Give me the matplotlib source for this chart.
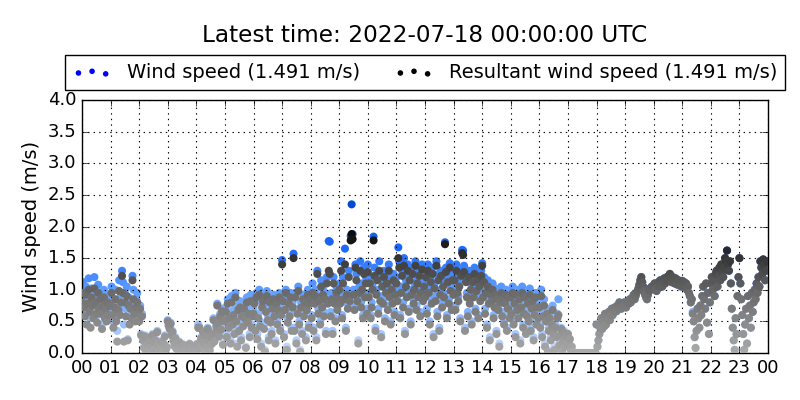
import numpy as np
import matplotlib
matplotlib.use('Agg')
from matplotlib import pyplot as plt
from matplotlib.colors import LinearSegmentedColormap, Normalize

# one value every 2 minutes, 30 per hour, hour 00 -> 23
WIND = [
    [0.95,1.12,0.85,0.70,1.05,0.62,0.90,1.18,0.78,0.55,1.02,0.88,0.68,1.20,0.92,0.75,0.60,1.08,0.82,0.96,0.72,0.45,0.88,1.00,0.65,0.80,0.58,0.92,0.70,0.85],
    [0.90,1.05,0.72,0.50,0.85,1.00,0.62,0.35,0.80,1.15,0.70,0.92,1.30,1.12,0.45,0.95,0.70,1.05,0.22,0.88,0.58,0.82,0.68,1.22,1.00,0.78,0.62,0.85,0.95,0.75],
    [0.55,0.75,0.30,0.62,0.22,0.10,0.28,0.05,0.15,0.25,0.08,0.20,0.02,0.12,0.30,0.18,0.06,0.22,0.10,0.35,0.15,0.04,0.12,0.08,0.20,0.03,0.15,0.28,0.06,0.10],
    [0.52,0.45,0.40,0.48,0.30,0.35,0.20,0.12,0.25,0.08,0.15,0.05,0.18,0.10,0.02,0.08,0.14,0.04,0.10,0.06,0.12,0.03,0.08,0.15,0.05,0.10,0.02,0.07,0.12,0.04],
    [0.05,0.15,0.45,0.42,0.10,0.25,0.08,0.35,0.18,0.02,0.30,0.12,0.40,0.22,0.05,0.28,0.15,0.32,0.55,0.20,0.35,0.45,0.78,0.50,0.28,0.62,0.40,0.70,0.15,0.55],
    [0.55,0.72,0.30,0.85,0.45,0.62,0.20,0.90,0.50,0.68,0.35,0.95,0.58,0.15,0.75,0.40,0.82,0.25,0.65,0.48,0.78,0.60,0.10,0.88,0.52,0.70,0.30,0.92,0.45,0.65],
    [0.70,0.85,0.40,0.95,0.30,0.62,1.00,0.50,0.15,0.80,0.90,0.45,0.05,0.72,0.98,0.60,0.25,0.88,0.55,0.35,0.78,0.92,0.65,0.20,0.85,0.50,0.75,0.95,0.40,0.68],
    [1.47,0.90,0.30,0.75,1.00,0.10,0.55,0.85,0.65,0.95,0.40,0.80,1.57,0.40,0.95,0.20,0.70,1.05,0.50,0.05,0.80,0.35,0.92,0.65,0.88,0.25,0.75,1.00,0.45,0.85],
    [0.95,0.60,1.10,0.40,0.85,1.00,0.25,1.30,0.70,0.90,0.50,1.15,0.80,1.00,0.65,0.95,0.35,1.20,0.85,1.77,1.76,0.65,0.95,0.35,1.20,0.85,0.55,1.05,0.75,0.92],
    [1.10,0.85,1.45,0.60,1.20,0.95,1.65,0.40,1.00,0.78,1.30,0.90,1.85,2.35,1.88,1.00,0.75,1.40,1.25,0.90,0.20,1.05,1.45,0.80,1.10,0.60,1.35,0.95,1.20,0.70],
    [1.40,0.95,1.20,0.60,0.80,1.10,1.84,1.35,0.40,1.00,1.25,0.70,1.45,0.90,0.30,1.15,0.85,1.30,0.55,1.05,1.20,0.75,1.40,0.95,0.50,1.10,0.85,1.25,0.65,1.00],
    [1.20,0.90,1.67,1.45,0.60,1.05,1.30,0.80,1.50,0.35,1.15,0.95,1.40,0.70,1.25,0.50,1.00,1.35,0.85,1.10,1.45,0.75,1.20,0.95,1.30,0.65,1.05,1.40,0.90,1.15],
    [0.95,1.30,0.70,1.40,1.05,0.50,1.20,0.85,1.35,0.30,1.10,0.90,1.45,0.65,1.25,0.40,1.00,1.30,0.80,1.15,0.95,1.75,1.35,0.60,1.20,0.85,1.42,1.05,0.75,1.25],
    [1.00,1.25,0.75,1.40,1.05,0.90,1.15,0.55,1.30,1.63,1.62,1.38,0.40,1.20,0.95,0.65,1.30,0.85,1.10,0.50,1.20,0.95,1.35,0.70,1.05,1.25,0.60,1.15,0.90,1.30],
    [1.42,0.95,1.20,0.70,1.05,0.45,1.15,0.85,0.25,1.00,0.90,1.10,0.60,0.80,1.02,0.35,0.95,0.75,0.15,0.88,1.05,0.65,0.92,0.50,0.85,1.00,0.40,0.78,0.95,0.60],
    [0.95,0.70,1.05,0.50,0.85,0.30,1.00,0.75,0.60,0.92,0.20,0.80,1.05,0.45,0.70,0.95,0.35,0.65,0.85,0.55,1.02,0.40,0.78,0.90,0.25,0.68,0.95,0.50,0.80,0.62],
    [0.80,0.45,1.00,0.30,0.65,0.85,0.15,0.55,0.70,0.05,0.40,0.60,0.25,0.50,0.75,0.35,0.10,0.45,0.28,0.62,0.85,0.15,0.30,0.40,0.05,0.20,0.35,0.12,0.28,0.18],
    [0.30,0.15,0.22,0.05,0.10,0.02,0.00,0.00,0.00,0.00,0.00,0.00,0.00,0.00,0.00,0.00,0.00,0.00,0.00,0.00,0.00,0.00,0.00,0.00,0.00,0.00,0.00,0.00,0.00,0.00],
    [0.45,0.10,0.20,0.30,0.40,0.55,0.38,0.50,0.42,0.62,0.45,0.58,0.52,0.65,0.52,0.60,0.70,0.60,0.66,0.72,0.68,0.66,0.75,0.70,0.80,0.72,0.70,0.78,0.76,0.80],
    [0.75,0.72,0.80,0.82,0.78,0.85,0.80,0.84,0.88,0.92,0.85,0.90,0.95,0.98,1.02,1.08,1.15,1.20,1.12,1.05,0.98,0.92,0.88,0.85,0.92,0.98,1.02,1.00,1.05,1.02],
    [1.05,1.10,1.02,0.98,1.06,1.12,1.08,1.15,1.10,1.05,1.12,1.18,1.10,1.14,1.20,1.16,1.22,1.25,1.18,1.12,1.20,1.15,1.10,1.18,1.12,1.08,1.15,1.10,1.12,1.05],
    [1.14,1.08,1.12,1.05,1.10,1.00,1.05,0.95,0.90,0.80,0.85,0.65,0.50,0.25,0.08,0.35,0.70,0.55,0.40,0.75,0.60,0.90,1.05,0.85,0.70,1.10,0.48,0.95,0.30,0.80],
    [1.10,1.20,1.00,1.15,0.90,1.25,1.30,1.05,1.22,1.35,1.15,1.40,1.28,1.20,1.35,1.50,1.45,1.62,1.40,1.30,1.45,1.10,0.70,0.40,0.20,0.05,0.55,0.30,0.90,1.20],
    [1.50,1.10,0.85,0.60,0.30,0.05,0.45,0.70,0.15,0.90,0.55,0.75,0.40,0.95,0.65,0.80,1.00,0.85,1.10,0.95,1.20,1.05,1.45,1.35,1.25,1.48,1.40,1.15,1.30,1.45],
]

RESULTANT = [
    [0.80,0.95,0.72,0.58,0.92,0.45,0.78,1.00,0.65,0.40,0.88,0.75,0.55,1.02,0.80,0.62,0.48,0.95,0.70,0.85,0.62,0.38,0.75,0.88,0.55,0.70,0.50,0.80,0.60,0.75],
    [0.75,0.95,0.60,0.40,0.72,0.85,0.50,0.18,0.68,0.98,0.60,0.80,1.22,0.95,0.18,0.80,0.58,0.90,0.20,0.75,0.45,0.70,0.55,1.15,0.85,0.62,0.50,0.72,0.80,0.62],
    [0.50,0.70,0.28,0.58,0.20,0.08,0.26,0.04,0.13,0.24,0.06,0.18,0.02,0.10,0.28,0.16,0.05,0.20,0.08,0.33,0.14,0.03,0.10,0.07,0.18,0.02,0.14,0.26,0.05,0.09],
    [0.50,0.43,0.38,0.46,0.28,0.33,0.19,0.11,0.23,0.07,0.14,0.04,0.17,0.09,0.02,0.07,0.13,0.03,0.09,0.05,0.11,0.02,0.07,0.14,0.04,0.09,0.02,0.06,0.11,0.03],
    [0.04,0.14,0.40,0.40,0.09,0.23,0.07,0.33,0.16,0.02,0.28,0.11,0.38,0.20,0.04,0.26,0.14,0.30,0.52,0.18,0.32,0.42,0.75,0.47,0.26,0.58,0.37,0.66,0.13,0.52],
    [0.50,0.65,0.25,0.78,0.40,0.55,0.15,0.80,0.45,0.60,0.30,0.88,0.50,0.10,0.68,0.35,0.72,0.20,0.58,0.42,0.70,0.55,0.08,0.80,0.48,0.62,0.25,0.82,0.40,0.58],
    [0.62,0.78,0.35,0.88,0.22,0.55,0.92,0.42,0.10,0.72,0.82,0.38,0.02,0.65,0.90,0.52,0.20,0.80,0.48,0.30,0.70,0.85,0.58,0.15,0.78,0.45,0.68,0.88,0.35,0.60],
    [1.40,0.82,0.25,0.68,0.95,0.05,0.48,0.78,0.58,0.88,0.35,0.72,1.50,0.35,0.88,0.15,0.62,0.98,0.45,0.02,0.72,0.30,0.85,0.58,0.80,0.20,0.68,0.92,0.40,0.78],
    [0.85,0.55,0.95,0.35,0.78,0.90,0.20,1.25,0.62,0.82,0.45,1.05,0.72,0.92,0.58,0.85,0.30,1.10,0.78,1.30,1.25,0.58,0.85,0.30,1.10,0.78,0.50,0.95,0.68,0.85],
    [1.00,0.78,1.30,0.55,1.10,0.85,1.40,0.35,0.92,0.70,1.20,0.82,1.78,1.88,1.80,0.92,0.68,1.35,1.15,0.82,0.15,0.95,1.30,0.72,1.00,0.55,1.25,0.88,1.10,0.62],
    [1.28,0.88,1.10,0.55,0.72,1.00,1.78,1.22,0.35,0.92,1.15,0.62,1.30,0.82,0.25,1.05,0.78,1.20,0.50,0.95,1.10,0.68,1.30,0.88,0.45,1.00,0.78,1.15,0.60,0.92],
    [1.10,0.82,1.50,1.35,0.55,0.95,1.22,0.72,1.38,0.30,1.05,0.88,1.30,0.65,1.15,0.45,0.92,1.25,0.78,1.00,1.38,0.68,1.10,0.88,1.22,0.58,0.95,1.32,0.82,1.05],
    [0.88,1.20,0.62,1.30,0.95,0.45,1.12,0.78,1.25,0.25,1.02,0.82,1.38,0.58,1.15,0.35,0.92,1.22,0.72,1.05,0.88,1.72,1.28,0.55,1.12,0.78,1.35,0.98,0.68,1.15],
    [0.92,1.15,0.68,1.30,0.95,0.82,1.05,0.50,1.22,1.58,1.55,1.28,0.35,1.12,0.88,0.58,1.20,0.78,1.00,0.45,1.12,0.88,1.25,0.65,0.98,1.15,0.55,1.05,0.82,1.22],
    [1.38,0.88,1.12,0.62,0.95,0.40,1.05,0.78,0.20,0.92,0.82,1.00,0.55,0.72,0.92,0.30,0.85,0.68,0.10,0.80,0.95,0.58,0.85,0.45,0.78,0.92,0.35,0.70,0.88,0.55],
    [0.88,0.62,0.95,0.45,0.78,0.25,0.92,0.68,0.55,0.85,0.15,0.72,0.95,0.40,0.62,0.88,0.30,0.58,0.78,0.50,0.92,0.35,0.70,0.82,0.20,0.60,0.88,0.45,0.72,0.55],
    [0.72,0.40,0.90,0.25,0.58,0.75,0.10,0.50,0.62,0.02,0.35,0.55,0.20,0.45,0.68,0.30,0.05,0.40,0.25,0.55,0.60,0.12,0.28,0.38,0.03,0.18,0.32,0.10,0.25,0.15],
    [0.30,0.15,0.22,0.05,0.10,0.02,0.00,0.00,0.00,0.00,0.00,0.00,0.00,0.00,0.00,0.00,0.00,0.00,0.00,0.00,0.00,0.00,0.00,0.00,0.00,0.00,0.00,0.00,0.00,0.00],
    [0.45,0.10,0.20,0.30,0.40,0.55,0.38,0.50,0.42,0.62,0.45,0.58,0.52,0.65,0.52,0.60,0.70,0.60,0.66,0.72,0.68,0.66,0.75,0.70,0.80,0.72,0.70,0.78,0.76,0.80],
    [0.75,0.72,0.80,0.82,0.78,0.85,0.80,0.84,0.88,0.92,0.85,0.90,0.95,0.98,1.02,1.08,1.15,1.20,1.12,1.05,0.98,0.92,0.88,0.85,0.92,0.98,1.02,1.00,1.05,1.02],
    [1.05,1.10,1.02,0.98,1.06,1.12,1.08,1.15,1.10,1.05,1.12,1.18,1.10,1.14,1.20,1.16,1.22,1.25,1.18,1.12,1.20,1.15,1.10,1.18,1.12,1.08,1.15,1.10,1.12,1.05],
    [1.14,1.08,1.12,1.05,1.10,1.00,1.05,0.95,0.90,0.80,0.85,0.62,0.50,0.25,0.08,0.35,0.70,0.55,0.40,0.75,0.60,0.90,1.05,0.85,0.70,1.10,0.48,0.95,0.30,0.80],
    [1.10,1.20,1.00,1.15,0.90,1.25,1.30,1.05,1.22,1.35,1.15,1.40,1.28,1.20,1.35,1.50,1.45,1.62,1.40,1.30,1.45,1.10,0.70,0.40,0.20,0.05,0.55,0.30,0.90,1.20],
    [1.50,1.10,0.85,0.60,0.30,0.05,0.45,0.70,0.15,0.90,0.55,0.75,0.40,0.95,0.65,0.80,1.00,0.85,1.10,0.95,1.20,1.05,1.45,1.35,1.25,1.48,1.40,1.15,1.30,1.45],
]

HOUR_LABELS = ['%02d' % h for h in range(24)] + ['00']
LATEST = '2022-07-18 00:00:00 UTC'
LAST_WS = 1.491
LAST_RWS = 1.491

ws = np.array(WIND).ravel()
rws = np.array(RESULTANT).ravel()
hours = np.arange(len(ws)) * 2 / 60.0

blue_cmap = LinearSegmentedColormap.from_list(
    'wsblue', [(0.0, '#c8dcff'), (0.42, '#5c9cff'), (0.67, '#1f6bff'), (1.0, '#0048d0')])
gray_cmap = LinearSegmentedColormap.from_list(
    'wsgray', [(0.0, '#aaaaaa'), (0.5, '#6a6a6a'), (0.8, '#333333'), (1.0, '#0a0a0a')])

plt.style.use('classic')
fig = plt.figure(figsize=(8, 4), dpi=100, facecolor='white')
ax = fig.add_axes([0.1025, 0.1175, 0.8575, 0.6325])

ax.scatter(hours, ws, c=ws, cmap=blue_cmap, norm=Normalize(0, 2.4), s=34, edgecolors='none', zorder=2)
ax.scatter(hours, rws, c=rws, cmap=gray_cmap, norm=Normalize(0, 1.9), s=34, edgecolors='none', zorder=3)

# legend proxies
p1 = ax.scatter([], [], c='b', s=16, edgecolors='none')
p2 = ax.scatter([], [], c='k', s=16, edgecolors='none')
ax.legend([p1, p2],
          ['Wind speed (%.3f m/s)' % LAST_WS, 'Resultant wind speed (%.3f m/s)' % LAST_RWS],
          scatterpoints=3, ncol=2, mode='expand', loc='lower left',
          bbox_to_anchor=(-0.025, 1.04, 1.05, 0.14), borderaxespad=0,
          fontsize=14, frameon=True)

ax.set_xlim(0, 24)
ax.set_ylim(0, 4)
ax.set_xticks(range(25))
ax.set_xticklabels(HOUR_LABELS)
ax.set_yticks(np.arange(0, 4.01, 0.5))
ax.tick_params(labelsize=13)
ax.grid(True, color='k', linestyle=':', linewidth=0.8)
ax.set_ylabel('Wind speed (m/s)', fontsize=14)

fig.text(0.53125, 0.91, 'Latest time: ' + LATEST, ha='center', va='center', fontsize=16.7)

fig.savefig('out.png', dpi=100)
